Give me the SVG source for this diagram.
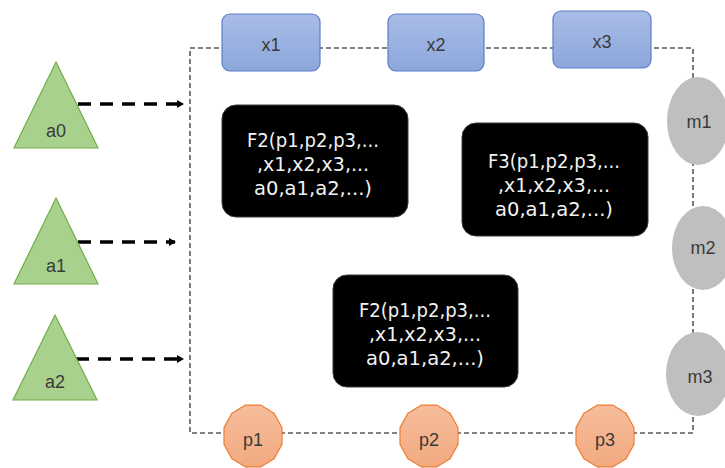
<svg xmlns="http://www.w3.org/2000/svg" xmlns:xlink="http://www.w3.org/1999/xlink" width="725" height="468" viewBox="0 0 725 468">
  <style>
    .lbl { font-family: "Liberation Sans", "DejaVu Sans", sans-serif; font-size: 18px; fill: #3a3a3a; text-anchor: middle; dominant-baseline: central; }
    .fn { font-family: "DejaVu Sans", "Liberation Sans", sans-serif; font-size: 19px; fill: #f2f2f2; text-anchor: middle; dominant-baseline: central; }
    .tri { fill: #a9d18e; stroke: #70ad47; stroke-width: 1.2; }
    .xbox { fill: url(#blueFill); stroke: #5b7fc9; stroke-width: 1.2; }
    .fbox { fill: #000000; stroke: #3a3a3a; stroke-width: 1; }
    .mnode { fill: #bfbfbf; }
    .pnode { fill: url(#orangeFill); stroke: #ed7d31; stroke-width: 1.2; }
    .border { fill: none; stroke: #595959; stroke-width: 1.6; stroke-dasharray: 5 3; }
    .arrow { fill: none; stroke: #000000; stroke-width: 3.5; stroke-dasharray: 13 9; }
  </style>
  <defs>
    <linearGradient id="blueFill" x1="0" y1="0" x2="0" y2="1">
      <stop offset="0" stop-color="#a9bce6"/>
      <stop offset="1" stop-color="#8ca7db"/>
    </linearGradient>
    <linearGradient id="orangeFill" x1="0" y1="0" x2="0" y2="1">
      <stop offset="0" stop-color="#f6bd9d"/>
      <stop offset="1" stop-color="#f2aa80"/>
    </linearGradient>
    <marker id="head" markerWidth="8" markerHeight="8" refX="6" refY="4" orient="auto" markerUnits="userSpaceOnUse">
      <path d="M0,0 L7,4 L0,8 Z" fill="#000000"/>
    </marker>
    <polygon id="dodeca" points="29,-8.3 21.2,-22.6 7.8,-30.9 -7.8,-30.9 -21.2,-22.6 -29,-8.3 -29,8.3 -21.2,22.6 -7.8,30.9 7.8,30.9 21.2,22.6 29,8.3"/>
  </defs>

  <rect width="725" height="468" fill="#ffffff"/>

  <!-- system boundary and input arrows -->
  <g id="connectors">
    <rect class="border" x="190" y="48" width="503" height="385"/>
    <line class="arrow" x1="78" y1="104" x2="183" y2="104" marker-end="url(#head)"/>
    <line class="arrow" x1="78" y1="242" x2="175" y2="242" marker-end="url(#head)"/>
    <line class="arrow" x1="76" y1="359" x2="183" y2="359" marker-end="url(#head)"/>
  </g>

  <!-- inputs a -->
  <g id="a0">
    <polygon class="tri" points="56,62 98,148 14,148"/>
    <text class="lbl" x="56" y="131">a0</text>
  </g>
  <g id="a1">
    <polygon class="tri" points="56,198 98,284 14,284"/>
    <text class="lbl" x="56" y="266">a1</text>
  </g>
  <g id="a2">
    <polygon class="tri" points="55,315 97,400 13,400"/>
    <text class="lbl" x="55" y="382">a2</text>
  </g>

  <!-- variables x -->
  <g id="x1">
    <rect class="xbox" x="222" y="14" width="98" height="57" rx="8"/>
    <text class="lbl" x="271" y="45">x1</text>
  </g>
  <g id="x2">
    <rect class="xbox" x="388" y="14" width="96" height="57" rx="8"/>
    <text class="lbl" x="436" y="45">x2</text>
  </g>
  <g id="x3">
    <rect class="xbox" x="553" y="11" width="98" height="57" rx="8"/>
    <text class="lbl" x="602" y="42">x3</text>
  </g>

  <!-- functions -->
  <g id="f2-top">
    <rect class="fbox" x="222" y="105" width="186" height="112" rx="14"/>
    <text class="fn" x="313" y="140" textLength="132" lengthAdjust="spacingAndGlyphs">F2(p1,p2,p3,...</text>
    <text class="fn" x="313" y="164" textLength="112" lengthAdjust="spacingAndGlyphs">,x1,x2,x3,...</text>
    <text class="fn" x="313" y="188" textLength="118" lengthAdjust="spacingAndGlyphs">a0,a1,a2,...)</text>
  </g>
  <g id="f3">
    <rect class="fbox" x="462" y="123" width="186" height="113" rx="14"/>
    <text class="fn" x="554" y="161" textLength="132" lengthAdjust="spacingAndGlyphs">F3(p1,p2,p3,...</text>
    <text class="fn" x="554" y="185" textLength="112" lengthAdjust="spacingAndGlyphs">,x1,x2,x3,...</text>
    <text class="fn" x="554" y="209" textLength="118" lengthAdjust="spacingAndGlyphs">a0,a1,a2,...)</text>
  </g>
  <g id="f2-bottom">
    <rect class="fbox" x="333" y="275" width="185" height="112" rx="14"/>
    <text class="fn" x="425" y="310" textLength="132" lengthAdjust="spacingAndGlyphs">F2(p1,p2,p3,...</text>
    <text class="fn" x="425" y="334" textLength="112" lengthAdjust="spacingAndGlyphs">,x1,x2,x3,...</text>
    <text class="fn" x="425" y="358" textLength="118" lengthAdjust="spacingAndGlyphs">a0,a1,a2,...)</text>
  </g>

  <!-- measures m -->
  <g id="m1">
    <ellipse class="mnode" cx="698" cy="121" rx="31" ry="44"/>
    <text class="lbl" x="699" y="122">m1</text>
  </g>
  <g id="m2">
    <ellipse class="mnode" cx="703" cy="248" rx="31" ry="42"/>
    <text class="lbl" x="703" y="248">m2</text>
  </g>
  <g id="m3">
    <ellipse class="mnode" cx="698" cy="374" rx="32" ry="42"/>
    <text class="lbl" x="700" y="377">m3</text>
  </g>

  <!-- parameters p -->
  <g id="p1">
    <use xlink:href="#dodeca" class="pnode" transform="translate(253,436)"/>
    <text class="lbl" x="253" y="440">p1</text>
  </g>
  <g id="p2">
    <use xlink:href="#dodeca" class="pnode" transform="translate(429,436)"/>
    <text class="lbl" x="429" y="440">p2</text>
  </g>
  <g id="p3">
    <use xlink:href="#dodeca" class="pnode" transform="translate(605,436)"/>
    <text class="lbl" x="605" y="440">p3</text>
  </g>
</svg>
